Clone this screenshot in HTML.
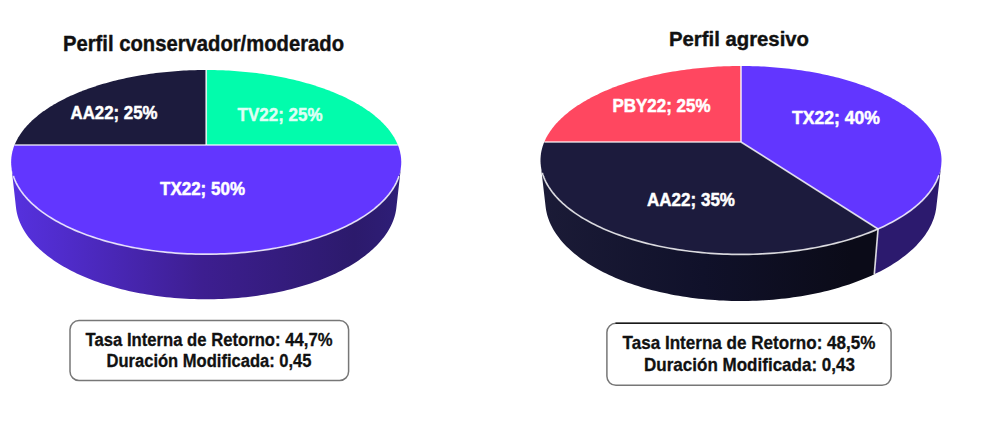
<!DOCTYPE html>
<html><head><meta charset="utf-8"><style>
html,body{margin:0;padding:0;background:#fff;width:1000px;height:446px;overflow:hidden}
svg{display:block}
</style></head><body>
<svg width="1000" height="446" viewBox="0 0 1000 446">
<rect width="1000" height="446" fill="#fff"/>
<defs>
<linearGradient id="g1" gradientUnits="userSpaceOnUse" x1="11" y1="0" x2="401" y2="0">
<stop offset="0" stop-color="#5631DF"/>
<stop offset="0.13" stop-color="#502CCC"/>
<stop offset="0.49" stop-color="#3D1E90"/>
<stop offset="0.88" stop-color="#2C1A6C"/>
<stop offset="1" stop-color="#2E1E78"/>
</linearGradient>
<linearGradient id="g2" gradientUnits="userSpaceOnUse" x1="540" y1="0" x2="880" y2="0">
<stop offset="0" stop-color="#1B1B37"/>
<stop offset="0.48" stop-color="#10112A"/>
<stop offset="0.92" stop-color="#0B0B18"/>
<stop offset="1" stop-color="#0B0B18"/>
</linearGradient>
</defs>
<path d="M400.97,167.01 L400.75,168.66 L400.47,170.33 L400.12,171.99 L399.71,173.66 L399.23,175.33 L398.68,177.00 L398.07,178.67 L397.39,180.34 L396.64,182.00 L395.82,183.67 L394.94,185.34 L393.99,187.00 L392.96,188.66 L391.87,190.31 L390.71,191.96 L389.48,193.61 L388.18,195.25 L386.81,196.88 L385.37,198.50 L383.86,200.12 L382.28,201.72 L380.63,203.32 L378.90,204.90 L377.11,206.48 L375.25,208.04 L373.32,209.59 L371.32,211.12 L369.25,212.65 L367.11,214.15 L364.91,215.64 L362.63,217.11 L360.29,218.57 L357.88,220.00 L355.41,221.42 L352.86,222.82 L350.26,224.19 L347.59,225.55 L344.85,226.88 L342.06,228.19 L339.20,229.47 L336.27,230.73 L333.29,231.96 L330.25,233.17 L327.16,234.35 L324.00,235.51 L320.79,236.63 L317.53,237.73 L314.21,238.79 L310.84,239.83 L307.42,240.83 L303.95,241.80 L300.43,242.74 L296.86,243.65 L293.26,244.52 L289.60,245.36 L285.91,246.16 L282.18,246.93 L278.41,247.66 L274.60,248.35 L270.76,249.01 L266.89,249.63 L262.98,250.21 L259.05,250.76 L255.09,251.26 L251.10,251.73 L247.09,252.15 L243.06,252.54 L239.02,252.89 L234.95,253.19 L230.87,253.46 L226.78,253.69 L222.68,253.87 L218.56,254.01 L214.45,254.12 L210.32,254.18 L206.20,254.20 L202.08,254.18 L197.95,254.12 L193.84,254.01 L189.72,253.87 L185.62,253.69 L181.53,253.46 L177.45,253.19 L173.38,252.89 L169.34,252.54 L165.31,252.15 L161.30,251.73 L157.31,251.26 L153.35,250.76 L149.42,250.21 L145.51,249.63 L141.64,249.01 L137.80,248.35 L133.99,247.66 L130.22,246.93 L126.49,246.16 L122.80,245.36 L119.14,244.52 L115.54,243.65 L111.97,242.74 L108.45,241.80 L104.98,240.83 L101.56,239.83 L98.19,238.79 L94.87,237.73 L91.61,236.63 L88.40,235.51 L85.24,234.35 L82.15,233.17 L79.11,231.96 L76.13,230.73 L73.20,229.47 L70.34,228.19 L67.55,226.88 L64.81,225.55 L62.14,224.19 L59.54,222.82 L56.99,221.42 L54.52,220.00 L52.11,218.57 L49.77,217.11 L47.49,215.64 L45.29,214.15 L43.15,212.65 L41.08,211.12 L39.08,209.59 L37.15,208.04 L35.29,206.48 L33.50,204.90 L31.77,203.32 L30.12,201.72 L28.54,200.12 L27.03,198.50 L25.59,196.88 L24.22,195.25 L22.92,193.61 L21.69,191.96 L20.53,190.31 L19.44,188.66 L18.41,187.00 L17.46,185.34 L16.58,183.67 L15.76,182.00 L15.01,180.34 L14.33,178.67 L13.72,177.00 L13.17,175.33 L12.69,173.66 L12.28,171.99 L11.93,170.33 L11.65,168.66 L11.43,167.01 L16.02,207.63 L16.25,209.38 L16.54,211.14 L16.89,212.89 L17.31,214.65 L17.79,216.41 L18.34,218.17 L18.96,219.93 L19.63,221.69 L20.38,223.45 L21.19,225.21 L22.07,226.97 L23.01,228.72 L24.02,230.47 L25.10,232.21 L26.25,233.95 L27.46,235.68 L28.74,237.40 L30.09,239.12 L31.51,240.83 L33.00,242.53 L34.55,244.22 L36.18,245.90 L37.87,247.57 L39.62,249.22 L41.45,250.87 L43.34,252.49 L45.30,254.11 L47.33,255.71 L49.43,257.29 L51.59,258.85 L53.81,260.40 L56.10,261.93 L58.46,263.44 L60.88,264.93 L63.37,266.39 L65.91,267.84 L68.52,269.26 L71.20,270.66 L73.93,272.03 L76.72,273.38 L79.57,274.70 L82.48,275.99 L85.45,277.26 L88.47,278.50 L91.54,279.71 L94.68,280.89 L97.86,282.04 L101.09,283.15 L104.38,284.24 L107.71,285.29 L111.09,286.31 L114.52,287.29 L117.99,288.24 L121.51,289.16 L125.06,290.04 L128.66,290.88 L132.29,291.68 L135.96,292.45 L139.67,293.17 L143.40,293.86 L147.17,294.51 L150.97,295.12 L154.80,295.69 L158.65,296.22 L162.53,296.71 L166.43,297.16 L170.35,297.56 L174.29,297.93 L178.24,298.25 L182.21,298.53 L186.19,298.76 L190.18,298.96 L194.18,299.11 L198.18,299.21 L202.19,299.28 L206.20,299.30 L210.21,299.28 L214.22,299.21 L218.22,299.11 L222.22,298.96 L226.21,298.76 L230.19,298.53 L234.16,298.25 L238.11,297.93 L242.05,297.56 L245.97,297.16 L249.87,296.71 L253.75,296.22 L257.60,295.69 L261.43,295.12 L265.23,294.51 L269.00,293.86 L272.73,293.17 L276.44,292.45 L280.11,291.68 L283.74,290.88 L287.34,290.04 L290.89,289.16 L294.41,288.24 L297.88,287.29 L301.31,286.31 L304.69,285.29 L308.02,284.24 L311.31,283.15 L314.54,282.04 L317.72,280.89 L320.86,279.71 L323.93,278.50 L326.95,277.26 L329.92,275.99 L332.83,274.70 L335.68,273.38 L338.47,272.03 L341.20,270.66 L343.88,269.26 L346.49,267.84 L349.03,266.39 L351.52,264.93 L353.94,263.44 L356.30,261.93 L358.59,260.40 L360.81,258.85 L362.97,257.29 L365.07,255.71 L367.10,254.11 L369.06,252.49 L370.95,250.87 L372.78,249.22 L374.53,247.57 L376.22,245.90 L377.85,244.22 L379.40,242.53 L380.89,240.83 L382.31,239.12 L383.66,237.40 L384.94,235.68 L386.15,233.95 L387.30,232.21 L388.38,230.47 L389.39,228.72 L390.33,226.97 L391.21,225.21 L392.02,223.45 L392.77,221.69 L393.44,219.93 L394.06,218.17 L394.61,216.41 L395.09,214.65 L395.51,212.89 L395.86,211.14 L396.15,209.38 L396.38,207.63 Z" fill="url(#g1)"/>
<path d="M206.20,145.00 L206.20,70.00 L209.02,70.01 L211.84,70.04 L214.66,70.09 L217.48,70.15 L220.30,70.24 L223.11,70.35 L225.92,70.47 L228.73,70.62 L231.54,70.78 L234.34,70.96 L237.13,71.17 L239.92,71.39 L242.71,71.63 L245.49,71.89 L248.26,72.17 L251.03,72.47 L253.79,72.78 L256.54,73.12 L259.28,73.48 L262.01,73.85 L264.74,74.25 L267.45,74.66 L270.16,75.09 L272.85,75.54 L275.53,76.01 L278.20,76.50 L280.86,77.01 L283.51,77.54 L286.14,78.09 L288.76,78.66 L291.36,79.24 L293.95,79.85 L296.52,80.47 L299.08,81.11 L301.62,81.77 L304.14,82.45 L306.65,83.15 L309.14,83.87 L311.61,84.61 L314.06,85.36 L316.49,86.14 L318.90,86.93 L321.28,87.74 L323.65,88.57 L326.00,89.42 L328.32,90.28 L330.62,91.17 L332.89,92.07 L335.14,92.99 L337.37,93.93 L339.56,94.89 L341.74,95.87 L343.88,96.86 L346.00,97.87 L348.09,98.90 L350.15,99.95 L352.18,101.02 L354.18,102.10 L356.14,103.20 L358.08,104.31 L359.99,105.45 L361.86,106.60 L363.69,107.77 L365.50,108.95 L367.26,110.15 L368.99,111.37 L370.69,112.60 L372.35,113.85 L373.97,115.12 L375.55,116.40 L377.09,117.70 L378.59,119.01 L380.05,120.34 L381.46,121.68 L382.84,123.04 L384.17,124.41 L385.46,125.80 L386.70,127.20 L387.90,128.61 L389.05,130.04 L390.16,131.48 L391.21,132.94 L392.22,134.40 L393.18,135.88 L394.09,137.37 L394.95,138.88 L395.75,140.39 L396.51,141.92 L397.21,143.45 L397.86,145.00 Z" fill="#02FCAC"/>
<path d="M206.20,145.00 L397.86,145.00 L398.45,146.56 L398.99,148.12 L399.47,149.70 L399.90,151.28 L400.27,152.88 L400.58,154.48 L400.83,156.09 L401.03,157.70 L401.16,159.33 L401.23,160.96 L401.25,162.59 L401.20,164.23 L401.09,165.88 L400.91,167.52 L400.67,169.18 L400.37,170.83 L400.00,172.49 L399.57,174.15 L399.08,175.81 L398.51,177.48 L397.88,179.14 L397.19,180.80 L396.42,182.46 L395.59,184.12 L394.69,185.78 L393.72,187.44 L392.69,189.09 L391.58,190.73 L390.41,192.38 L389.17,194.01 L387.85,195.64 L386.47,197.27 L385.02,198.88 L383.50,200.49 L381.91,202.08 L380.25,203.67 L378.52,205.25 L376.72,206.81 L374.85,208.37 L372.92,209.91 L370.91,211.43 L368.84,212.94 L366.69,214.44 L364.48,215.92 L362.20,217.38 L359.86,218.83 L357.45,220.25 L354.97,221.66 L352.43,223.05 L349.82,224.42 L347.15,225.76 L344.42,227.08 L341.62,228.38 L338.77,229.66 L335.85,230.91 L332.87,232.13 L329.84,233.33 L326.74,234.51 L323.59,235.65 L320.39,236.77 L317.13,237.85 L313.82,238.91 L310.46,239.94 L307.05,240.93 L303.59,241.90 L300.08,242.83 L296.52,243.73 L292.93,244.59 L289.29,245.43 L285.60,246.22 L281.88,246.98 L278.13,247.71 L274.33,248.40 L270.51,249.05 L266.65,249.67 L262.75,250.24 L258.84,250.78 L254.89,251.28 L250.92,251.75 L246.93,252.17 L242.91,252.55 L238.88,252.90 L234.83,253.20 L230.77,253.47 L226.69,253.69 L222.61,253.87 L218.51,254.02 L214.41,254.12 L210.31,254.18 L206.20,254.20 L202.09,254.18 L197.99,254.12 L193.89,254.02 L189.79,253.87 L185.71,253.69 L181.63,253.47 L177.57,253.20 L173.52,252.90 L169.49,252.55 L165.47,252.17 L161.48,251.75 L157.51,251.28 L153.56,250.78 L149.65,250.24 L145.75,249.67 L141.89,249.05 L138.07,248.40 L134.27,247.71 L130.52,246.98 L126.80,246.22 L123.11,245.43 L119.47,244.59 L115.88,243.73 L112.32,242.83 L108.81,241.90 L105.35,240.93 L101.94,239.94 L98.58,238.91 L95.27,237.85 L92.01,236.77 L88.81,235.65 L85.66,234.51 L82.56,233.33 L79.53,232.13 L76.55,230.91 L73.63,229.66 L70.78,228.38 L67.98,227.08 L65.25,225.76 L62.58,224.42 L59.97,223.05 L57.43,221.66 L54.95,220.25 L52.54,218.83 L50.20,217.38 L47.92,215.92 L45.71,214.44 L43.56,212.94 L41.49,211.43 L39.48,209.91 L37.55,208.37 L35.68,206.81 L33.88,205.25 L32.15,203.67 L30.49,202.08 L28.90,200.49 L27.38,198.88 L25.93,197.27 L24.55,195.64 L23.23,194.01 L21.99,192.38 L20.82,190.73 L19.71,189.09 L18.68,187.44 L17.71,185.78 L16.81,184.12 L15.98,182.46 L15.21,180.80 L14.52,179.14 L13.89,177.48 L13.32,175.81 L12.83,174.15 L12.40,172.49 L12.03,170.83 L11.73,169.18 L11.49,167.52 L11.31,165.88 L11.20,164.23 L11.15,162.59 L11.17,160.96 L11.24,159.33 L11.37,157.70 L11.57,156.09 L11.82,154.48 L12.13,152.88 L12.50,151.28 L12.93,149.70 L13.41,148.12 L13.95,146.56 L14.54,145.00 Z" fill="#6236FF"/>
<path d="M206.20,145.00 L14.54,145.00 L15.19,143.45 L15.89,141.92 L16.65,140.39 L17.45,138.88 L18.31,137.37 L19.22,135.88 L20.18,134.40 L21.19,132.94 L22.24,131.48 L23.35,130.04 L24.50,128.61 L25.70,127.20 L26.94,125.80 L28.23,124.41 L29.56,123.04 L30.94,121.68 L32.35,120.34 L33.81,119.01 L35.31,117.70 L36.85,116.40 L38.43,115.12 L40.05,113.85 L41.71,112.60 L43.41,111.37 L45.14,110.15 L46.90,108.95 L48.71,107.77 L50.54,106.60 L52.41,105.45 L54.32,104.31 L56.26,103.20 L58.22,102.10 L60.22,101.02 L62.25,99.95 L64.31,98.90 L66.40,97.87 L68.52,96.86 L70.66,95.87 L72.84,94.89 L75.03,93.93 L77.26,92.99 L79.51,92.07 L81.78,91.17 L84.08,90.28 L86.40,89.42 L88.75,88.57 L91.12,87.74 L93.50,86.93 L95.91,86.14 L98.34,85.36 L100.79,84.61 L103.26,83.87 L105.75,83.15 L108.26,82.45 L110.78,81.77 L113.32,81.11 L115.88,80.47 L118.45,79.85 L121.04,79.24 L123.64,78.66 L126.26,78.09 L128.89,77.54 L131.54,77.01 L134.20,76.50 L136.87,76.01 L139.55,75.54 L142.24,75.09 L144.95,74.66 L147.66,74.25 L150.39,73.85 L153.12,73.48 L155.86,73.12 L158.61,72.78 L161.37,72.47 L164.14,72.17 L166.91,71.89 L169.69,71.63 L172.48,71.39 L175.27,71.17 L178.06,70.96 L180.86,70.78 L183.67,70.62 L186.48,70.47 L189.29,70.35 L192.10,70.24 L194.92,70.15 L197.74,70.09 L200.56,70.04 L203.38,70.01 L206.20,70.00 Z" fill="#1C1B3D"/>
<line x1="206.20" y1="145.00" x2="206.20" y2="70.00" stroke="#ffffff" stroke-opacity="0.80" stroke-width="1.70"/>
<line x1="206.20" y1="145.00" x2="397.86" y2="145.00" stroke="#ffffff" stroke-opacity="0.80" stroke-width="1.70"/>
<line x1="206.20" y1="145.00" x2="14.54" y2="145.00" stroke="#ffffff" stroke-opacity="0.80" stroke-width="1.70"/>
<polyline points="398.97,176.15 398.39,177.82 397.74,179.49 397.03,181.16 396.25,182.82 395.40,184.49 394.48,186.15 393.49,187.82 392.44,189.47 391.31,191.13 390.11,192.77 388.85,194.42 387.51,196.05 386.11,197.68 384.63,199.30 383.09,200.91 381.47,202.51 379.79,204.10 378.03,205.68 376.20,207.25 374.31,208.81 372.34,210.35 370.31,211.88 368.20,213.39 366.03,214.89 363.79,216.37 361.48,217.83 359.11,219.28 356.67,220.71 354.16,222.11 351.58,223.50 348.94,224.86 346.24,226.21 343.47,227.53 340.65,228.83 337.76,230.10 334.80,231.34 331.79,232.57 328.72,233.76 325.60,234.93 322.41,236.07 319.18,237.18 315.88,238.26 312.54,239.31 309.14,240.33 305.70,241.32 302.20,242.27 298.66,243.19 295.07,244.08 291.44,244.94 287.77,245.76 284.06,246.54 280.31,247.29 276.52,248.01 272.69,248.68 268.83,249.32 264.94,249.92 261.02,250.49 257.08,251.01 253.10,251.50 249.11,251.94 245.09,252.35 241.05,252.72 236.99,253.05 232.92,253.33 228.83,253.58 224.73,253.78 220.62,253.95 216.51,254.07 212.39,254.15 208.26,254.19 204.14,254.19 200.01,254.15 195.89,254.07 191.78,253.95 187.67,253.78 183.57,253.58 179.48,253.33 175.41,253.05 171.35,252.72 167.31,252.35 163.29,251.94 159.30,251.50 155.32,251.01 151.38,250.49 147.46,249.92 143.57,249.32 139.71,248.68 135.88,248.01 132.09,247.29 128.34,246.54 124.63,245.76 120.96,244.94 117.33,244.08 113.74,243.19 110.20,242.27 106.70,241.32 103.26,240.33 99.86,239.31 96.52,238.26 93.22,237.18 89.99,236.07 86.80,234.93 83.68,233.76 80.61,232.57 77.60,231.34 74.64,230.10 71.75,228.83 68.93,227.53 66.16,226.21 63.46,224.86 60.82,223.50 58.24,222.11 55.73,220.71 53.29,219.28 50.92,217.83 48.61,216.37 46.37,214.89 44.20,213.39 42.09,211.88 40.06,210.35 38.09,208.81 36.20,207.25 34.37,205.68 32.61,204.10 30.93,202.51 29.31,200.91 27.77,199.30 26.29,197.68 24.89,196.05 23.55,194.42 22.29,192.77 21.09,191.13 19.96,189.47 18.91,187.82 17.92,186.15 17.00,184.49 16.15,182.82 15.37,181.16 14.66,179.49 14.01,177.82 13.43,176.15" fill="none" stroke="#ffffff" stroke-opacity="0.80" stroke-width="1.70"/>
<path d="M941.20,165.36 L940.96,167.08 L940.66,168.81 L940.29,170.55 L939.84,172.29 L939.33,174.02 L938.74,175.76 L938.09,177.50 L937.36,179.24 L936.56,180.98 L935.68,182.72 L934.74,184.46 L933.72,186.19 L932.62,187.92 L931.45,189.65 L930.21,191.36 L928.89,193.08 L927.50,194.79 L926.03,196.48 L924.48,198.18 L922.87,199.86 L921.17,201.53 L919.40,203.19 L917.56,204.84 L915.64,206.48 L913.64,208.10 L911.57,209.71 L909.43,211.31 L907.21,212.89 L904.92,214.45 L902.55,215.99 L900.11,217.52 L897.60,219.03 L895.02,220.51 L892.36,221.98 L889.64,223.42 L886.84,224.84 L883.98,226.24 L881.05,227.61 L878.05,228.96 L874.29,274.27 L877.22,272.86 L880.08,271.41 L882.87,269.94 L885.60,268.45 L888.26,266.93 L890.86,265.39 L893.38,263.82 L895.83,262.24 L898.22,260.63 L900.53,259.00 L902.78,257.36 L904.95,255.69 L907.05,254.01 L909.08,252.32 L911.04,250.60 L912.92,248.88 L914.73,247.14 L916.47,245.39 L918.13,243.62 L919.72,241.85 L921.24,240.06 L922.69,238.27 L924.06,236.47 L925.36,234.66 L926.59,232.84 L927.75,231.02 L928.83,229.20 L929.84,227.37 L930.78,225.53 L931.65,223.70 L932.44,221.86 L933.17,220.02 L933.83,218.18 L934.41,216.34 L934.93,214.50 L935.38,212.66 L935.76,210.83 L936.08,208.99 L936.32,207.17 Z" fill="#2C1A6E"/>
<path d="M878.05,228.96 L875.03,230.26 L871.94,231.54 L868.79,232.79 L865.58,234.01 L862.31,235.20 L858.98,236.36 L855.60,237.50 L852.15,238.60 L848.66,239.67 L845.10,240.71 L841.50,241.71 L837.85,242.68 L834.15,243.62 L830.40,244.52 L826.61,245.38 L822.77,246.21 L818.89,247.00 L814.97,247.76 L811.01,248.47 L807.02,249.15 L802.99,249.78 L798.93,250.38 L794.84,250.94 L790.72,251.46 L786.58,251.93 L782.41,252.37 L778.22,252.76 L774.01,253.11 L769.79,253.42 L765.54,253.69 L761.29,253.92 L757.02,254.10 L752.75,254.24 L748.47,254.33 L744.18,254.39 L739.90,254.40 L735.61,254.37 L731.33,254.29 L727.05,254.17 L722.78,254.01 L718.52,253.81 L714.27,253.56 L710.04,253.27 L705.82,252.94 L701.62,252.57 L697.44,252.15 L693.29,251.69 L689.16,251.20 L685.05,250.66 L680.98,250.08 L676.93,249.46 L672.92,248.80 L668.95,248.11 L665.01,247.37 L661.11,246.60 L657.25,245.79 L653.44,244.94 L649.67,244.06 L645.94,243.14 L642.27,242.19 L638.64,241.20 L635.06,240.18 L631.54,239.12 L628.07,238.04 L624.66,236.92 L621.30,235.77 L618.00,234.59 L614.76,233.38 L611.58,232.15 L608.46,230.88 L605.41,229.59 L602.42,228.28 L599.49,226.93 L596.63,225.57 L593.84,224.18 L591.11,222.77 L588.45,221.33 L585.87,219.88 L583.35,218.40 L580.90,216.91 L578.52,215.39 L576.21,213.86 L573.98,212.31 L571.81,210.75 L569.72,209.17 L567.70,207.58 L565.76,205.97 L563.88,204.35 L562.08,202.72 L560.36,201.07 L558.71,199.42 L557.13,197.76 L555.62,196.09 L554.19,194.41 L552.83,192.72 L551.54,191.03 L550.33,189.33 L549.19,187.63 L548.12,185.92 L547.12,184.21 L546.20,182.50 L545.34,180.78 L544.56,179.06 L543.85,177.35 L543.21,175.63 L542.64,173.91 L542.13,172.19 L541.70,170.48 L541.33,168.77 L541.03,167.06 L540.80,165.36 L545.68,207.17 L545.92,208.97 L546.23,210.78 L546.60,212.59 L547.04,214.40 L547.55,216.22 L548.12,218.03 L548.77,219.85 L549.48,221.67 L550.26,223.48 L551.10,225.29 L552.02,227.10 L553.01,228.91 L554.07,230.71 L555.19,232.51 L556.39,234.31 L557.66,236.09 L559.00,237.87 L560.41,239.64 L561.89,241.41 L563.45,243.16 L565.07,244.91 L566.77,246.64 L568.53,248.36 L570.37,250.07 L572.28,251.76 L574.26,253.44 L576.30,255.10 L578.42,256.75 L580.61,258.38 L582.87,260.00 L585.20,261.59 L587.59,263.16 L590.05,264.72 L592.58,266.25 L595.18,267.76 L597.84,269.25 L600.57,270.71 L603.36,272.15 L606.21,273.56 L609.13,274.94 L612.11,276.30 L615.15,277.63 L618.25,278.93 L621.41,280.20 L624.62,281.44 L627.89,282.64 L631.22,283.82 L634.60,284.96 L638.03,286.07 L641.51,287.14 L645.04,288.18 L648.62,289.18 L652.24,290.15 L655.91,291.07 L659.62,291.96 L663.37,292.81 L667.16,293.62 L670.99,294.40 L674.86,295.13 L678.75,295.82 L682.68,296.47 L686.64,297.07 L690.63,297.64 L694.65,298.16 L698.69,298.64 L702.75,299.07 L706.83,299.47 L710.92,299.81 L715.04,300.12 L719.17,300.38 L723.30,300.59 L727.45,300.76 L731.61,300.88 L735.77,300.96 L739.93,301.00 L744.09,300.99 L748.26,300.93 L752.41,300.83 L756.56,300.68 L760.71,300.49 L764.84,300.26 L768.96,299.98 L773.07,299.65 L777.16,299.28 L781.23,298.87 L785.28,298.41 L789.31,297.91 L793.31,297.37 L797.28,296.78 L801.23,296.16 L805.14,295.49 L809.03,294.78 L812.87,294.03 L816.69,293.23 L820.46,292.40 L824.19,291.53 L827.88,290.63 L831.53,289.68 L835.13,288.70 L838.68,287.68 L842.19,286.62 L845.65,285.53 L849.05,284.41 L852.41,283.25 L855.71,282.06 L858.95,280.84 L862.14,279.58 L865.26,278.30 L868.33,276.99 L871.35,275.64 L874.29,274.27 Z" fill="url(#g2)"/>
<line x1="878.05" y1="228.96" x2="874.29" y2="274.27" stroke="#ffffff" stroke-opacity="0.80" stroke-width="1.70"/>
<path d="M741.00,142.00 L741.00,66.00 L743.88,66.01 L746.75,66.04 L749.63,66.09 L752.51,66.16 L755.38,66.24 L758.25,66.35 L761.12,66.48 L763.98,66.62 L766.84,66.79 L769.70,66.97 L772.55,67.17 L775.40,67.40 L778.24,67.64 L781.08,67.90 L783.91,68.18 L786.73,68.48 L789.55,68.80 L792.35,69.14 L795.15,69.50 L797.94,69.88 L800.73,70.28 L803.50,70.69 L806.26,71.13 L809.01,71.58 L811.75,72.06 L814.48,72.55 L817.19,73.07 L819.90,73.60 L822.59,74.15 L825.26,74.72 L827.92,75.31 L830.57,75.92 L833.20,76.55 L835.82,77.20 L838.42,77.87 L841.00,78.55 L843.56,79.26 L846.11,79.98 L848.64,80.73 L851.15,81.49 L853.64,82.27 L856.11,83.07 L858.55,83.89 L860.98,84.73 L863.38,85.58 L865.77,86.46 L868.12,87.35 L870.46,88.27 L872.77,89.20 L875.05,90.15 L877.31,91.12 L879.54,92.10 L881.74,93.11 L883.92,94.13 L886.07,95.18 L888.19,96.23 L890.28,97.31 L892.34,98.41 L894.36,99.52 L896.36,100.65 L898.32,101.80 L900.25,102.97 L902.15,104.15 L904.01,105.35 L905.83,106.57 L907.62,107.80 L909.37,109.05 L911.09,110.32 L912.76,111.61 L914.40,112.91 L916.00,114.22 L917.55,115.56 L919.07,116.90 L920.54,118.27 L921.97,119.65 L923.36,121.04 L924.70,122.45 L925.99,123.87 L927.24,125.31 L928.44,126.76 L929.60,128.23 L930.71,129.71 L931.76,131.20 L932.77,132.71 L933.73,134.23 L934.63,135.76 L935.49,137.30 L936.29,138.86 L937.03,140.42 L937.72,142.00 L938.36,143.59 L938.94,145.19 L939.46,146.79 L939.92,148.41 L940.33,150.04 L940.68,151.67 L940.96,153.32 L941.19,154.97 L941.36,156.63 L941.46,158.29 L941.50,159.97 L941.48,161.64 L941.39,163.33 L941.24,165.01 L941.02,166.71 L940.74,168.40 L940.39,170.10 L939.97,171.80 L939.49,173.51 L938.94,175.21 L938.32,176.92 L937.63,178.62 L936.87,180.33 L936.04,182.03 L935.14,183.73 L934.17,185.43 L933.13,187.13 L932.02,188.82 L930.84,190.51 L929.58,192.19 L928.26,193.87 L926.86,195.54 L925.39,197.20 L923.84,198.85 L922.23,200.50 L920.54,202.13 L918.78,203.76 L916.95,205.37 L915.04,206.97 L913.07,208.56 L911.02,210.13 L908.90,211.69 L906.71,213.23 L904.45,214.76 L902.11,216.27 L899.71,217.76 L897.24,219.24 L894.70,220.69 L892.09,222.12 L889.42,223.54 L886.67,224.93 L883.87,226.29 L880.99,227.64 L878.05,228.96 Z" fill="#6236FF"/>
<path d="M741.00,142.00 L878.05,228.96 L875.05,230.25 L871.99,231.52 L868.86,232.76 L865.67,233.97 L862.43,235.16 L859.13,236.32 L855.77,237.44 L852.35,238.54 L848.88,239.60 L845.36,240.63 L841.79,241.63 L838.16,242.60 L834.49,243.53 L830.78,244.43 L827.01,245.29 L823.21,246.12 L819.36,246.91 L815.48,247.66 L811.55,248.38 L807.59,249.05 L803.60,249.69 L799.57,250.29 L795.52,250.85 L791.43,251.37 L787.32,251.85 L783.19,252.29 L779.03,252.69 L774.86,253.05 L770.66,253.36 L766.45,253.64 L762.23,253.87 L758.00,254.06 L753.76,254.21 L749.51,254.32 L745.26,254.38 L741.00,254.40 L736.74,254.38 L732.49,254.32 L728.24,254.21 L724.00,254.06 L719.77,253.87 L715.55,253.64 L711.34,253.36 L707.14,253.05 L702.97,252.69 L698.81,252.29 L694.68,251.85 L690.57,251.37 L686.48,250.85 L682.43,250.29 L678.40,249.69 L674.41,249.05 L670.45,248.38 L666.52,247.66 L662.64,246.91 L658.79,246.12 L654.99,245.29 L651.22,244.43 L647.51,243.53 L643.84,242.60 L640.21,241.63 L636.64,240.63 L633.12,239.60 L629.65,238.54 L626.23,237.44 L622.87,236.32 L619.57,235.16 L616.33,233.97 L613.14,232.76 L610.01,231.52 L606.95,230.25 L603.95,228.96 L601.01,227.64 L598.13,226.29 L595.33,224.93 L592.58,223.54 L589.91,222.12 L587.30,220.69 L584.76,219.24 L582.29,217.76 L579.89,216.27 L577.55,214.76 L575.29,213.23 L573.10,211.69 L570.98,210.13 L568.93,208.56 L566.96,206.97 L565.05,205.37 L563.22,203.76 L561.46,202.13 L559.77,200.50 L558.16,198.85 L556.61,197.20 L555.14,195.54 L553.74,193.87 L552.42,192.19 L551.16,190.51 L549.98,188.82 L548.87,187.13 L547.83,185.43 L546.86,183.73 L545.96,182.03 L545.13,180.33 L544.37,178.62 L543.68,176.92 L543.06,175.21 L542.51,173.51 L542.03,171.80 L541.61,170.10 L541.26,168.40 L540.98,166.71 L540.76,165.01 L540.61,163.33 L540.52,161.64 L540.50,159.97 L540.54,158.29 L540.64,156.63 L540.81,154.97 L541.04,153.32 L541.32,151.67 L541.67,150.04 L542.08,148.41 L542.54,146.79 L543.06,145.19 L543.64,143.59 L544.28,142.00 Z" fill="#1C1B3D"/>
<path d="M741.00,142.00 L544.28,142.00 L544.97,140.42 L545.71,138.86 L546.51,137.30 L547.37,135.76 L548.27,134.23 L549.23,132.71 L550.24,131.20 L551.29,129.71 L552.40,128.23 L553.56,126.76 L554.76,125.31 L556.01,123.87 L557.30,122.45 L558.64,121.04 L560.03,119.65 L561.46,118.27 L562.93,116.90 L564.45,115.56 L566.00,114.22 L567.60,112.91 L569.24,111.61 L570.91,110.32 L572.63,109.05 L574.38,107.80 L576.17,106.57 L577.99,105.35 L579.85,104.15 L581.75,102.97 L583.68,101.80 L585.64,100.65 L587.64,99.52 L589.66,98.41 L591.72,97.31 L593.81,96.23 L595.93,95.18 L598.08,94.13 L600.26,93.11 L602.46,92.10 L604.69,91.12 L606.95,90.15 L609.23,89.20 L611.54,88.27 L613.88,87.35 L616.23,86.46 L618.62,85.58 L621.02,84.73 L623.45,83.89 L625.89,83.07 L628.36,82.27 L630.85,81.49 L633.36,80.73 L635.89,79.98 L638.44,79.26 L641.00,78.55 L643.58,77.87 L646.18,77.20 L648.80,76.55 L651.43,75.92 L654.08,75.31 L656.74,74.72 L659.41,74.15 L662.10,73.60 L664.81,73.07 L667.52,72.55 L670.25,72.06 L672.99,71.58 L675.74,71.13 L678.50,70.69 L681.27,70.28 L684.06,69.88 L686.85,69.50 L689.65,69.14 L692.45,68.80 L695.27,68.48 L698.09,68.18 L700.92,67.90 L703.76,67.64 L706.60,67.40 L709.45,67.17 L712.30,66.97 L715.16,66.79 L718.02,66.62 L720.88,66.48 L723.75,66.35 L726.62,66.24 L729.49,66.16 L732.37,66.09 L735.25,66.04 L738.12,66.01 L741.00,66.00 Z" fill="#FF4760"/>
<line x1="741.00" y1="142.00" x2="741.00" y2="66.00" stroke="#ffffff" stroke-opacity="0.80" stroke-width="1.70"/>
<line x1="741.00" y1="142.00" x2="878.05" y2="228.96" stroke="#ffffff" stroke-opacity="0.80" stroke-width="1.70"/>
<line x1="741.00" y1="142.00" x2="544.28" y2="142.00" stroke="#ffffff" stroke-opacity="0.80" stroke-width="1.70"/>
<polyline points="938.94,175.21 938.32,176.92 937.63,178.63 936.87,180.34 936.03,182.04 935.13,183.75 934.16,185.45 933.12,187.15 932.00,188.85 930.82,190.54 929.56,192.23 928.23,193.91 926.82,195.58 925.35,197.24 923.80,198.90 922.18,200.55 920.48,202.19 918.72,203.81 916.88,205.43 914.97,207.03 912.98,208.62 910.93,210.20 908.80,211.76 906.60,213.31 904.33,214.84 901.99,216.35 899.58,217.84 897.10,219.32 894.55,220.78 891.93,222.21 889.24,223.62 886.49,225.02 883.67,226.39 880.79,227.73 877.84,229.05 874.82,230.35 871.75,231.61 868.61,232.86 865.41,234.07 862.16,235.26 858.84,236.41 855.47,237.54 852.04,238.63 848.56,239.70 845.03,240.73 841.44,241.73 837.81,242.69 834.12,243.62 830.39,244.52 826.62,245.38 822.80,246.20 818.94,246.99 815.04,247.74 811.11,248.45 807.13,249.13 803.13,249.76 799.09,250.36 795.02,250.92 790.93,251.43 786.80,251.91 782.66,252.34 778.49,252.74 774.30,253.09 770.10,253.40 765.88,253.67 761.65,253.90 757.40,254.08 753.15,254.23 748.89,254.33 744.63,254.38 740.37,254.40 736.10,254.37 731.84,254.30 727.58,254.19 723.33,254.03 719.09,253.84 714.86,253.60 710.65,253.31 706.45,252.99 702.27,252.63 698.11,252.22 693.97,251.77 689.85,251.28 685.77,250.76 681.71,250.19 677.68,249.58 673.68,248.93 669.72,248.25 665.79,247.52 661.91,246.76 658.06,245.96 654.25,245.13 650.49,244.26 646.78,243.35 643.11,242.41 639.49,241.43 635.92,240.43 632.40,239.38 628.93,238.31 625.52,237.21 622.17,236.07 618.87,234.91 615.63,233.71 612.45,232.49 609.33,231.24 606.27,229.96 603.28,228.66 600.35,227.33 597.48,225.98 594.68,224.61 591.95,223.21 589.28,221.79 586.69,220.34 584.16,218.88 581.70,217.40 579.31,215.90 576.99,214.38 574.74,212.85 572.56,211.30 570.46,209.73 568.42,208.15 566.46,206.56 564.57,204.95 562.75,203.33 561.01,201.70 559.33,200.06 557.73,198.41 556.21,196.75 554.75,195.08 553.37,193.41 552.06,191.73 550.82,190.04 549.66,188.35 548.56,186.65 547.54,184.95 546.59,183.24 545.71,181.54 544.90,179.83 544.16,178.12 543.49,176.41 542.89,174.70 542.36,172.99" fill="none" stroke="#ffffff" stroke-opacity="0.80" stroke-width="1.70"/>
<rect x="70.0" y="320.6" width="278.6" height="59.9" rx="9" ry="9" fill="none" stroke="#777" stroke-width="1.5"/>
<rect x="606.9" y="323.3" width="284.2" height="62.0" rx="9" ry="9" fill="none" stroke="#777" stroke-width="1.5"/>
<line x1="615.5" y1="323.3" x2="882.4" y2="323.3" stroke="#1a1a1a" stroke-width="1.4"/>
<text x="63.00" y="51.20" font-size="21.50" textLength="281.00" lengthAdjust="spacingAndGlyphs" fill="#111" stroke="#111" stroke-width="0.40" stroke-linejoin="round" font-family="'Liberation Sans', sans-serif" font-weight="bold">Perfil conservador/moderado</text>
<text x="669.00" y="45.60" font-size="20.50" textLength="140.00" lengthAdjust="spacingAndGlyphs" fill="#111" stroke="#111" stroke-width="0.40" stroke-linejoin="round" font-family="'Liberation Sans', sans-serif" font-weight="bold">Perfil agresivo</text>
<text x="70.50" y="119.20" font-size="19.00" textLength="87.00" lengthAdjust="spacingAndGlyphs" fill="#FFFFFF" stroke="#FFFFFF" stroke-width="0.50" stroke-linejoin="round" font-family="'Liberation Sans', sans-serif" font-weight="bold">AA22; 25%</text>
<text x="237.60" y="121.40" font-size="19.00" textLength="85.00" lengthAdjust="spacingAndGlyphs" fill="#DDFFF4" stroke="#DDFFF4" stroke-width="0.50" stroke-linejoin="round" font-family="'Liberation Sans', sans-serif" font-weight="bold">TV22; 25%</text>
<text x="160.00" y="195.10" font-size="19.00" textLength="85.00" lengthAdjust="spacingAndGlyphs" fill="#FFFFFF" stroke="#FFFFFF" stroke-width="0.50" stroke-linejoin="round" font-family="'Liberation Sans', sans-serif" font-weight="bold">TX22; 50%</text>
<text x="612.50" y="112.00" font-size="19.00" textLength="98.00" lengthAdjust="spacingAndGlyphs" fill="#FFFFFF" stroke="#FFFFFF" stroke-width="0.50" stroke-linejoin="round" font-family="'Liberation Sans', sans-serif" font-weight="bold">PBY22; 25%</text>
<text x="792.00" y="124.00" font-size="19.00" textLength="88.00" lengthAdjust="spacingAndGlyphs" fill="#FFFFFF" stroke="#FFFFFF" stroke-width="0.50" stroke-linejoin="round" font-family="'Liberation Sans', sans-serif" font-weight="bold">TX22; 40%</text>
<text x="647.00" y="206.20" font-size="19.00" textLength="88.00" lengthAdjust="spacingAndGlyphs" fill="#FFFFFF" stroke="#FFFFFF" stroke-width="0.50" stroke-linejoin="round" font-family="'Liberation Sans', sans-serif" font-weight="bold">AA22; 35%</text>
<text x="85.50" y="345.50" font-size="18.00" textLength="247.00" lengthAdjust="spacingAndGlyphs" fill="#111" stroke="#111" stroke-width="0.30" stroke-linejoin="round" font-family="'Liberation Sans', sans-serif" font-weight="bold">Tasa Interna de Retorno: 44,7%</text>
<text x="106.50" y="367.00" font-size="18.00" textLength="205.00" lengthAdjust="spacingAndGlyphs" fill="#111" stroke="#111" stroke-width="0.30" stroke-linejoin="round" font-family="'Liberation Sans', sans-serif" font-weight="bold">Duración Modificada: 0,45</text>
<text x="622.50" y="348.70" font-size="18.50" textLength="253.00" lengthAdjust="spacingAndGlyphs" fill="#111" stroke="#111" stroke-width="0.30" stroke-linejoin="round" font-family="'Liberation Sans', sans-serif" font-weight="bold">Tasa Interna de Retorno: 48,5%</text>
<text x="644.00" y="370.60" font-size="18.50" textLength="211.00" lengthAdjust="spacingAndGlyphs" fill="#111" stroke="#111" stroke-width="0.30" stroke-linejoin="round" font-family="'Liberation Sans', sans-serif" font-weight="bold">Duración Modificada: 0,43</text>
</svg>
</body></html>
